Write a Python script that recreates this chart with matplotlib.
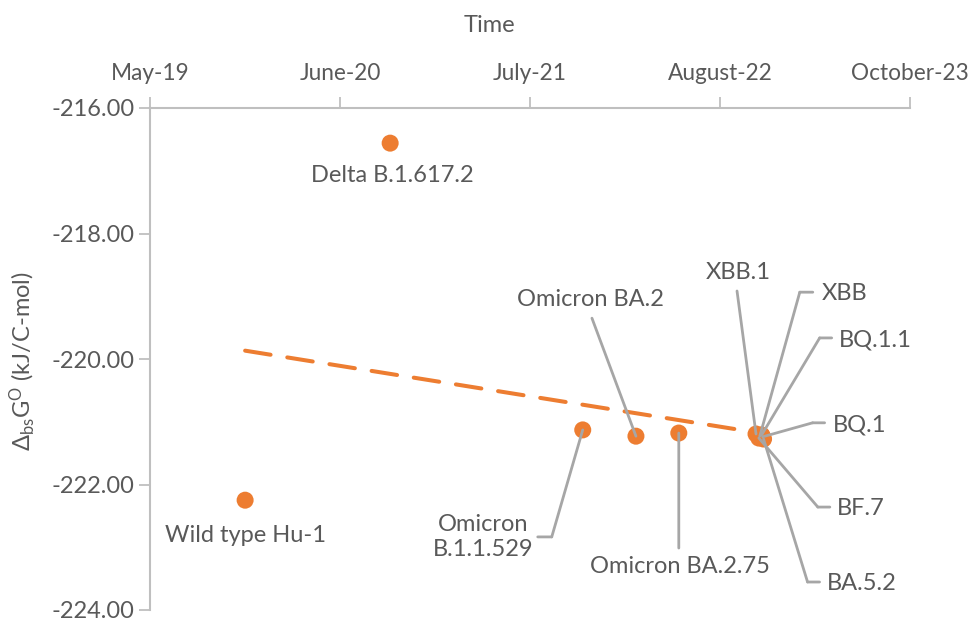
import numpy as np
import matplotlib
matplotlib.use("Agg")
import matplotlib.pyplot as plt
import matplotlib.dates as mdates
from matplotlib.transforms import offset_copy

plt.rcParams['font.family'] = ['Lato', 'DejaVu Sans']
plt.rcParams['mathtext.fontset'] = 'custom'
plt.rcParams['mathtext.rm'] = 'Lato'
plt.rcParams['mathtext.it'] = 'Lato:italic'

# ---------------- data ----------------
variants = ["Wild type Hu-1", "Delta B.1.617.2", "Omicron\nB.1.1.529", "Omicron BA.2",
            "Omicron BA.2.75", "XBB.1", "XBB", "BQ.1.1", "BQ.1", "BF.7", "BA.5.2"]
dates = ["2019-11-19", "2020-09-22", "2021-11-05", "2022-02-26", "2022-05-28",
         "2022-11-08", "2022-11-16", "2022-11-20", "2022-11-22", "2022-11-14", "2022-11-24"]
dG = [-222.25, -216.56, -221.13, -221.23, -221.18,
      -221.195, -221.23, -221.21, -221.24, -221.26, -221.275]

x_start, x_end = "2019-05-01", "2023-10-01"
x_tick_labels = ["May-19", "June-20", "July-21", "August-22", "October-23"]
y_ticks = [-224.0, -222.0, -220.0, -218.0, -216.0]

# ---------------- style ----------------
ORANGE = "#ED7D31"
TXT = "#595959"
AX = "#BFBFBF"
LEAD = "#A6A6A6"
FS = 17

fig = plt.figure(figsize=(9.69, 6.21), dpi=100)
ax = fig.add_axes([150/969, 1-610/621, (910-150)/969, (610-108)/621])

x = mdates.datestr2num(dates)
y = np.array(dG)
x0, x1 = mdates.datestr2num([x_start, x_end])

# linear trendline
coef = np.polyfit(x, y, 1)
xt = np.array([x.min(), x.max()])
ax.plot(xt, np.polyval(coef, xt), color=ORANGE, lw=2.9, dashes=(6.4, 4.2),
        dash_capstyle='round', zorder=2)

ax.scatter(x, y, s=150, color=ORANGE, edgecolors='none', zorder=3)

ax.set_xlim(x0, x1)
ax.set_ylim(-224, -216)
ax.set_xticks(np.linspace(x0, x1, len(x_tick_labels)))
ax.set_xticklabels(x_tick_labels)
ax.set_yticks(y_ticks)
ax.set_yticklabels([f"{v:.2f}" for v in y_ticks])
ax.xaxis.tick_top()
ax.tick_params(axis='x', direction='out', length=8, width=1.3, color=AX, labelsize=16.3,
               labelcolor=TXT, pad=9)
ax.tick_params(axis='y', direction='out', length=8, width=1.3, color=AX, labelsize=FS,
               labelcolor=TXT, pad=3)
for s in ['right', 'bottom']:
    ax.spines[s].set_visible(False)
for s in ['top', 'left']:
    ax.spines[s].set_color(AX)
    ax.spines[s].set_linewidth(1.5)

fig.text(489/969, 1-25/621, "Time", ha='center', va='center', fontsize=FS, color=TXT)
fig.text(22/969, 1-361/621, r"$\Delta_{\rm bs}\mathrm{G}^{\rm O}$ (kJ/C-mol)", rotation=90,
         ha='center', va='center', fontsize=FS, color=TXT)

# label layout: (text offset px, ha, elbow start px or None, elbow end px or None)
layout = {
    "Wild type Hu-1": ((0, -35), 'center', None, None),
    "Delta B.1.617.2": ((2, -32), 'center', None, None),
    "Omicron\nB.1.1.529": ((-100, -107), 'center', (-31, -107), (-45, -107)),
    "Omicron BA.2": ((-46, 137), 'center', (-44, 118), None),
    "Omicron BA.2.75": ((1, -133), 'center', (0, -115), None),
}
lay_px = {  # side labels of the cluster: point px, elbow px, text-left px (image coords)
    "XBB.1": ((756, 434), (737, 291), None, (738, 273)),
    "XBB": ((760, 436), (800, 292), (813, 292), (822, 293)),
    "BQ.1.1": ((762, 435), (820, 338), (832, 338), (839, 340)),
    "BQ.1": ((763, 437), (813, 423), (825, 423), (833, 425)),
    "BF.7": ((759, 438), (818, 507), (830, 507), (837, 508)),
    "BA.5.2": ((764, 439), (808, 582), (820, 582), (827, 583)),
}


def seg(xd, yd, p, q):
    tr = offset_copy(ax.transData, fig=fig, x=p[0], y=p[1], units='dots')
    ax.annotate("", xy=(xd, yd), xycoords=tr, xytext=(q[0]-p[0], q[1]-p[1]),
                textcoords='offset pixels',
                arrowprops=dict(arrowstyle='-', color=LEAD, lw=2, shrinkA=0, shrinkB=0),
                zorder=4)


for name, xd, yd in zip(variants, x, y):
    if name in layout:
        toff, ha, e1, e2 = layout[name]
        ax.annotate(name, xy=(xd, yd), xytext=toff, textcoords='offset pixels',
                    ha=ha, va='center', fontsize=FS, color=TXT, linespacing=1.2,
                    annotation_clip=False)
        if e1 is not None:
            seg(xd, yd, (0, 0), e1)
            if e2 is not None:
                seg(xd, yd, e1, e2)
    else:
        pt, e1, e2, tl = lay_px[name]
        def off(p):
            return (p[0]-pt[0], -(p[1]-pt[1]))
        if e2 is None:
            ax.annotate(name, xy=(xd, yd), xytext=off(tl), textcoords='offset pixels',
                        ha='center', va='center', fontsize=FS, color=TXT, annotation_clip=False)
        else:
            ax.annotate(name, xy=(xd, yd), xytext=off(tl), textcoords='offset pixels',
                        ha='left', va='center', fontsize=FS, color=TXT, annotation_clip=False)
        seg(xd, yd, (0, 0), off(e1))
        if e2 is not None:
            seg(xd, yd, off(e1), off(e2))

fig.savefig("out.png", dpi=100, facecolor='white')
